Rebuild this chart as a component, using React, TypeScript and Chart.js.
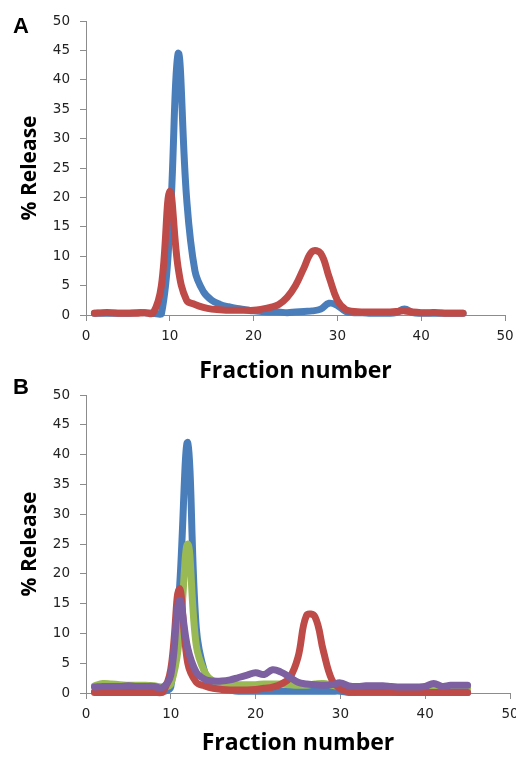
import React, { useEffect, useRef } from "react";
import { Chart, registerables } from "chart.js";

Chart.register(...registerables);

// ---------- DATA ----------
const fractions = [
  1, 2, 3, 4, 5, 6, 7, 8, 9, 10, 11, 12, 13, 14, 15, 16, 17, 18, 19, 20, 21, 22, 23,
  24, 25, 26, 27, 28, 29, 30, 31, 32, 33, 34, 35, 36, 37, 38, 39, 40, 41, 42, 43, 44, 45,
];

const xTicks = [0, 10, 20, 30, 40, 50];
const yTicks = [0, 5, 10, 15, 20, 25, 30, 35, 40, 45, 50];

// Panel A
const aBlue = [
  0.3, 0.3, 0.3, 0.3, 0.3, 0.4, 0.4, 0.3, 0.2, 15, 44.5, 20, 7.5, 4, 2.5, 1.8, 1.4, 1.1, 0.9, 0.7,
  0.6, 0.5, 0.5, 0.4, 0.5, 0.6, 0.7, 1.0, 2.0, 1.6, 0.6, 0.4, 0.4, 0.3, 0.3, 0.3, 0.4, 1.0, 0.4,
  0.3, 0.3, 0.3, 0.3, 0.3, 0.3,
];
const aRed = [
  0.3, 0.4, 0.4, 0.3, 0.3, 0.3, 0.4, 0.3, 5, 21, 8, 2.5, 1.8, 1.3, 1.0, 0.9, 0.8, 0.8, 0.8, 0.8,
  1.0, 1.3, 1.8, 3.0, 5, 8, 10.8, 10.5, 6.5, 2.5, 0.9, 0.6, 0.5, 0.5, 0.5, 0.5, 0.6, 0.7, 0.5,
  0.4, 0.4, 0.4, 0.3, 0.3, 0.3,
];

// Panel B
const bBlue = [
  0.2, 0.2, 0.2, 0.2, 0.2, 0.2, 0.2, 0.2, 0.2, 1.0, 17, 42, 11, 3.5, 1.5, 0.8, 0.5, 0.3, 0.3, 0.3,
  0.3, 0.3, 0.3, 0.3, 0.3, 0.3, 0.3, 0.3, 0.3, 0.3, 0.1, 0.1, 0.1, 0.1, 0.1, 0.1, 0.1, 0.1, 0.1,
  0.1, 0.1, 0.1, 0.1, 0.1, 0.1,
];
const bGreen = [
  1.2, 1.6, 1.5, 1.4, 1.3, 1.3, 1.3, 1.2, 1.0, 1.5, 9, 25, 8, 3.5, 2.0, 1.6, 1.5, 1.4, 1.4, 1.4,
  1.5, 1.5, 1.5, 1.4, 1.3, 1.3, 1.5, 1.6, 1.3, 1.1, 0.9, 0.9, 0.9, 0.9, 0.9, 0.9, 0.9, 0.9, 0.8,
  0.8, 0.8, 0.8, 0.8, 0.8, 0.8,
];
const bRed = [
  0.1, 0.1, 0.1, 0.1, 0.1, 0.1, 0.1, 0.1, 0.1, 4, 17.5, 5, 1.8, 1.2, 0.8, 0.6, 0.5, 0.5, 0.5, 0.6,
  0.8, 1.0, 1.5, 2.5, 6, 13, 12.8, 7, 2.2, 0.7, 0.2, 0.2, 0.2, 0.2, 0.2, 0.2, 0.1, 0.1, 0.1, 0.1,
  0.1, 0.1, 0.1, 0.1, 0.1,
];
const bPurple = [
  1.0, 1.1, 1.1, 1.1, 1.2, 1.1, 1.1, 1.1, 0.9, 3, 15.5, 7.5, 3.5, 2.3, 2.0, 2.0, 2.2, 2.6, 3.0,
  3.4, 3.1, 3.9, 3.5, 2.7, 1.8, 1.5, 1.4, 1.3, 1.4, 1.7, 1.2, 1.1, 1.2, 1.2, 1.2, 1.1, 1.0, 1.0,
  1.0, 1.1, 1.6, 1.1, 1.3, 1.3, 1.3,
];

const BLUE = "#4a7ebb";
const RED = "#be4b48";
const GREEN = "#98b954";
const PURPLE = "#7d60a0";

const xTitle = "Fraction number";
const yTitle = "% Release";

// ---------- CHART BUILDER ----------
const AXIS_COLOR = "#8c8c8c";
const TICK_FONT = { family: "'DejaVu Sans', sans-serif", size: 13.5 };
const X_TITLE_FONT = { family: "'Open Sans', sans-serif", size: 23, weight: "bold" as const };
const Y_TITLE_FONT = { family: "'Open Sans', sans-serif", size: 21, weight: "bold" as const };

function series(values: number[], color: string, order: number) {
  return {
    data: fractions.map((f, i) => ({ x: f, y: values[i] })),
    borderColor: color,
    backgroundColor: color,
    borderWidth: 7,
    pointRadius: 0,
    tension: 0.4,
    borderCapStyle: "round" as const,
    borderJoinStyle: "round" as const,
    fill: false,
    clip: false as any,
    order,
  };
}

function letterPlugin(letter: string, x: number, y: number) {
  return {
    id: "panelLetter" + letter,
    afterDraw(chart: any) {
      const ctx = chart.ctx;
      ctx.save();
      ctx.fillStyle = "#000";
      ctx.font = "bold 22px 'Liberation Sans', Arial, sans-serif";
      ctx.textBaseline = "alphabetic";
      ctx.textAlign = "left";
      ctx.fillText(letter, x, y);
      ctx.restore();
    },
  };
}

function makeConfig(
  datasets: any[],
  pad: { top: number; right: number },
  xAxisHeight: number,
  xTitlePadBottom: number,
  letter: string,
  letterY: number
) {
  return {
    type: "line" as const,
    data: { datasets },
    options: {
      animation: false as const,
      responsive: false,
      maintainAspectRatio: false,
      layout: { padding: { left: 0, right: pad.right, top: pad.top, bottom: 0 } },
      plugins: { legend: { display: false }, tooltip: { enabled: false } },
      scales: {
        x: {
          type: "linear" as const,
          min: xTicks[0],
          max: xTicks[xTicks.length - 1],
          afterBuildTicks: (s: any) => {
            s.ticks = xTicks.map((v) => ({ value: v }));
          },
          afterFit: (s: any) => {
            s.height = xAxisHeight;
            s.paddingLeft = 0;
            s.paddingRight = 0;
          },
          ticks: { color: "#222", font: TICK_FONT, padding: 7, maxRotation: 0, autoSkip: false },
          grid: {
            display: true,
            drawOnChartArea: false,
            drawTicks: true,
            tickLength: 6,
            color: AXIS_COLOR,
          },
          border: { display: true, color: AXIS_COLOR, width: 1 },
          title: {
            display: true,
            text: xTitle,
            color: "#000",
            font: X_TITLE_FONT,
            padding: { top: 0, bottom: xTitlePadBottom },
          },
        },
        y: {
          type: "linear" as const,
          min: yTicks[0],
          max: yTicks[yTicks.length - 1],
          afterBuildTicks: (s: any) => {
            s.ticks = yTicks.map((v) => ({ value: v }));
          },
          afterFit: (s: any) => {
            s.width = 86;
            s.paddingTop = 0;
            s.paddingBottom = 0;
          },
          ticks: { color: "#222", font: TICK_FONT, padding: 10, autoSkip: false },
          grid: {
            display: true,
            drawOnChartArea: false,
            drawTicks: true,
            tickLength: 6,
            color: AXIS_COLOR,
          },
          border: { display: true, color: AXIS_COLOR, width: 1 },
          title: {
            display: true,
            text: yTitle,
            color: "#000",
            font: Y_TITLE_FONT,
            padding: { top: 17, bottom: 0 },
          },
        },
      },
    },
    plugins: [letterPlugin(letter, 13, letterY)],
  };
}

function Panel(props: { top: number; height: number; build: () => any }) {
  const ref = useRef<HTMLCanvasElement | null>(null);
  useEffect(() => {
    if (!ref.current) return;
    const chart = new Chart(ref.current, props.build());
    return () => chart.destroy();
  }, []);
  return (
    <canvas
      ref={ref}
      width={516}
      height={props.height}
      style={{
        position: "absolute",
        left: 0,
        top: props.top,
        width: 516,
        height: props.height,
        display: "block",
      }}
    />
  );
}

export default function App() {
  return (
    <div
      style={{
        position: "absolute",
        left: 0,
        top: 0,
        width: 516,
        height: 757,
        background: "#fff",
        overflow: "hidden",
      }}
    >
      <Panel
        top={0}
        height={390}
        build={() =>
          makeConfig(
            [series(aRed, RED, 0), series(aBlue, BLUE, 1)],
            { top: 21, right: 11 },
            75,
            5,
            "A",
            33
          )
        }
      />
      <Panel
        top={378}
        height={379}
        build={() =>
          makeConfig(
            [
              series(bPurple, PURPLE, 0),
              series(bRed, RED, 1),
              series(bGreen, GREEN, 2),
              series(bBlue, BLUE, 3),
            ],
            { top: 17, right: 6 },
            64,
            0,
            "B",
            16
          )
        }
      />
    </div>
  );
}
